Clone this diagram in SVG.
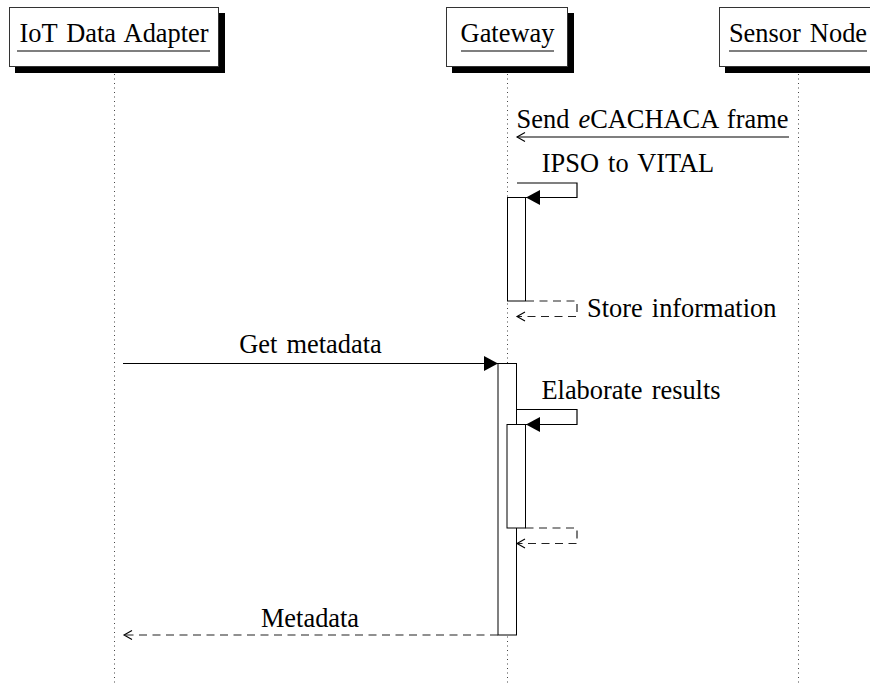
<svg xmlns="http://www.w3.org/2000/svg" width="870" height="683" viewBox="0 0 870 683">
<style>
text{font-family:"Liberation Serif","Times New Roman",serif;font-size:26.4px;fill:#000;word-spacing:2.5px}
.box{fill:#fff;stroke:#333;stroke-width:1}
.shadow{fill:#000}
.ul{stroke:#000;stroke-width:1.2}
.life{stroke:#444;stroke-width:1;stroke-dasharray:1 3.5}
.msg{fill:none;stroke:#000;stroke-width:1.2}
.ret{fill:none;stroke:#222;stroke-width:1.2;stroke-dasharray:8 5.5}
.act{fill:#fff;stroke:#000;stroke-width:1}
</style>
<defs>
<marker id="filled" markerUnits="userSpaceOnUse" markerWidth="16" markerHeight="16" refX="14" refY="7.5" orient="auto" overflow="visible">
<path d="M0,0 L14,7.5 L0,15 z" fill="#000"/>
</marker>
<marker id="open" markerUnits="userSpaceOnUse" markerWidth="10" markerHeight="10" refX="8" refY="4.5" orient="auto" overflow="visible">
<path d="M0,0 L8,4.5 L0,9" fill="none" stroke="#000" stroke-width="1.1"/>
</marker>
</defs>

<g id="lifelines">
<line class="life" x1="114.5" y1="74" x2="114.5" y2="683"/>
<line class="life" x1="507.5" y1="74" x2="507.5" y2="683"/>
<line class="life" x1="798.5" y1="74" x2="798.5" y2="683"/>
</g>

<g id="iot-data-adapter">
<rect class="shadow" x="15" y="13" width="210" height="60"/>
<rect class="box" x="9.5" y="7.5" width="209" height="59"/>
<text x="114" y="42" text-anchor="middle">IoT Data Adapter</text>
<line class="ul" x1="17" y1="51" x2="210" y2="51"/>
</g>

<g id="gateway">
<rect class="shadow" x="452" y="13" width="122" height="60"/>
<rect class="box" x="446.5" y="7.5" width="121" height="59"/>
<text x="507.5" y="42" text-anchor="middle">Gateway</text>
<line class="ul" x1="461" y1="51" x2="554" y2="51"/>
</g>

<g id="sensor-node">
<rect class="shadow" x="725" y="13" width="160" height="60"/>
<rect class="box" x="719.5" y="7.5" width="159" height="59"/>
<text x="798" y="42" text-anchor="middle">Sensor Node</text>
<line class="ul" x1="729" y1="51" x2="867" y2="51"/>
</g>

<g id="activations">
<rect class="act" x="507.5" y="197.5" width="18" height="103.5"/>
<rect class="act" x="498" y="363.5" width="18.5" height="271.5"/>
<rect class="act" x="507" y="424.5" width="18.5" height="103.5"/>
</g>

<g id="connectors">
<line class="msg" x1="789" y1="137" x2="517" y2="137" marker-end="url(#open)"/>
<polyline class="msg" points="517,183 577,183 577,197.5 526,197.5" marker-end="url(#filled)"/>
<polyline class="ret" points="526,301 577,301 577,316.5 517,316.5" marker-end="url(#open)"/>
<line class="msg" x1="123" y1="363.5" x2="498" y2="363.5" marker-end="url(#filled)"/>
<polyline class="msg" points="516.5,409.5 577,409.5 577,424.5 526,424.5" marker-end="url(#filled)"/>
<polyline class="ret" points="525.5,528 577,528 577,543.5 517,543.5" marker-end="url(#open)"/>
<line class="ret" x1="498" y1="635" x2="124" y2="635" marker-end="url(#open)"/>
</g>

<g id="labels">
<text x="652.5" y="127.5" text-anchor="middle">Send <tspan font-style="italic">e</tspan>CACHACA frame</text>
<text x="628" y="172" text-anchor="middle">IPSO to VITAL</text>
<text x="587" y="317">Store information</text>
<text x="310.5" y="353" text-anchor="middle">Get metadata</text>
<text x="631" y="399" text-anchor="middle">Elaborate results</text>
<text x="310" y="627" text-anchor="middle">Metadata</text>
</g>
</svg>
